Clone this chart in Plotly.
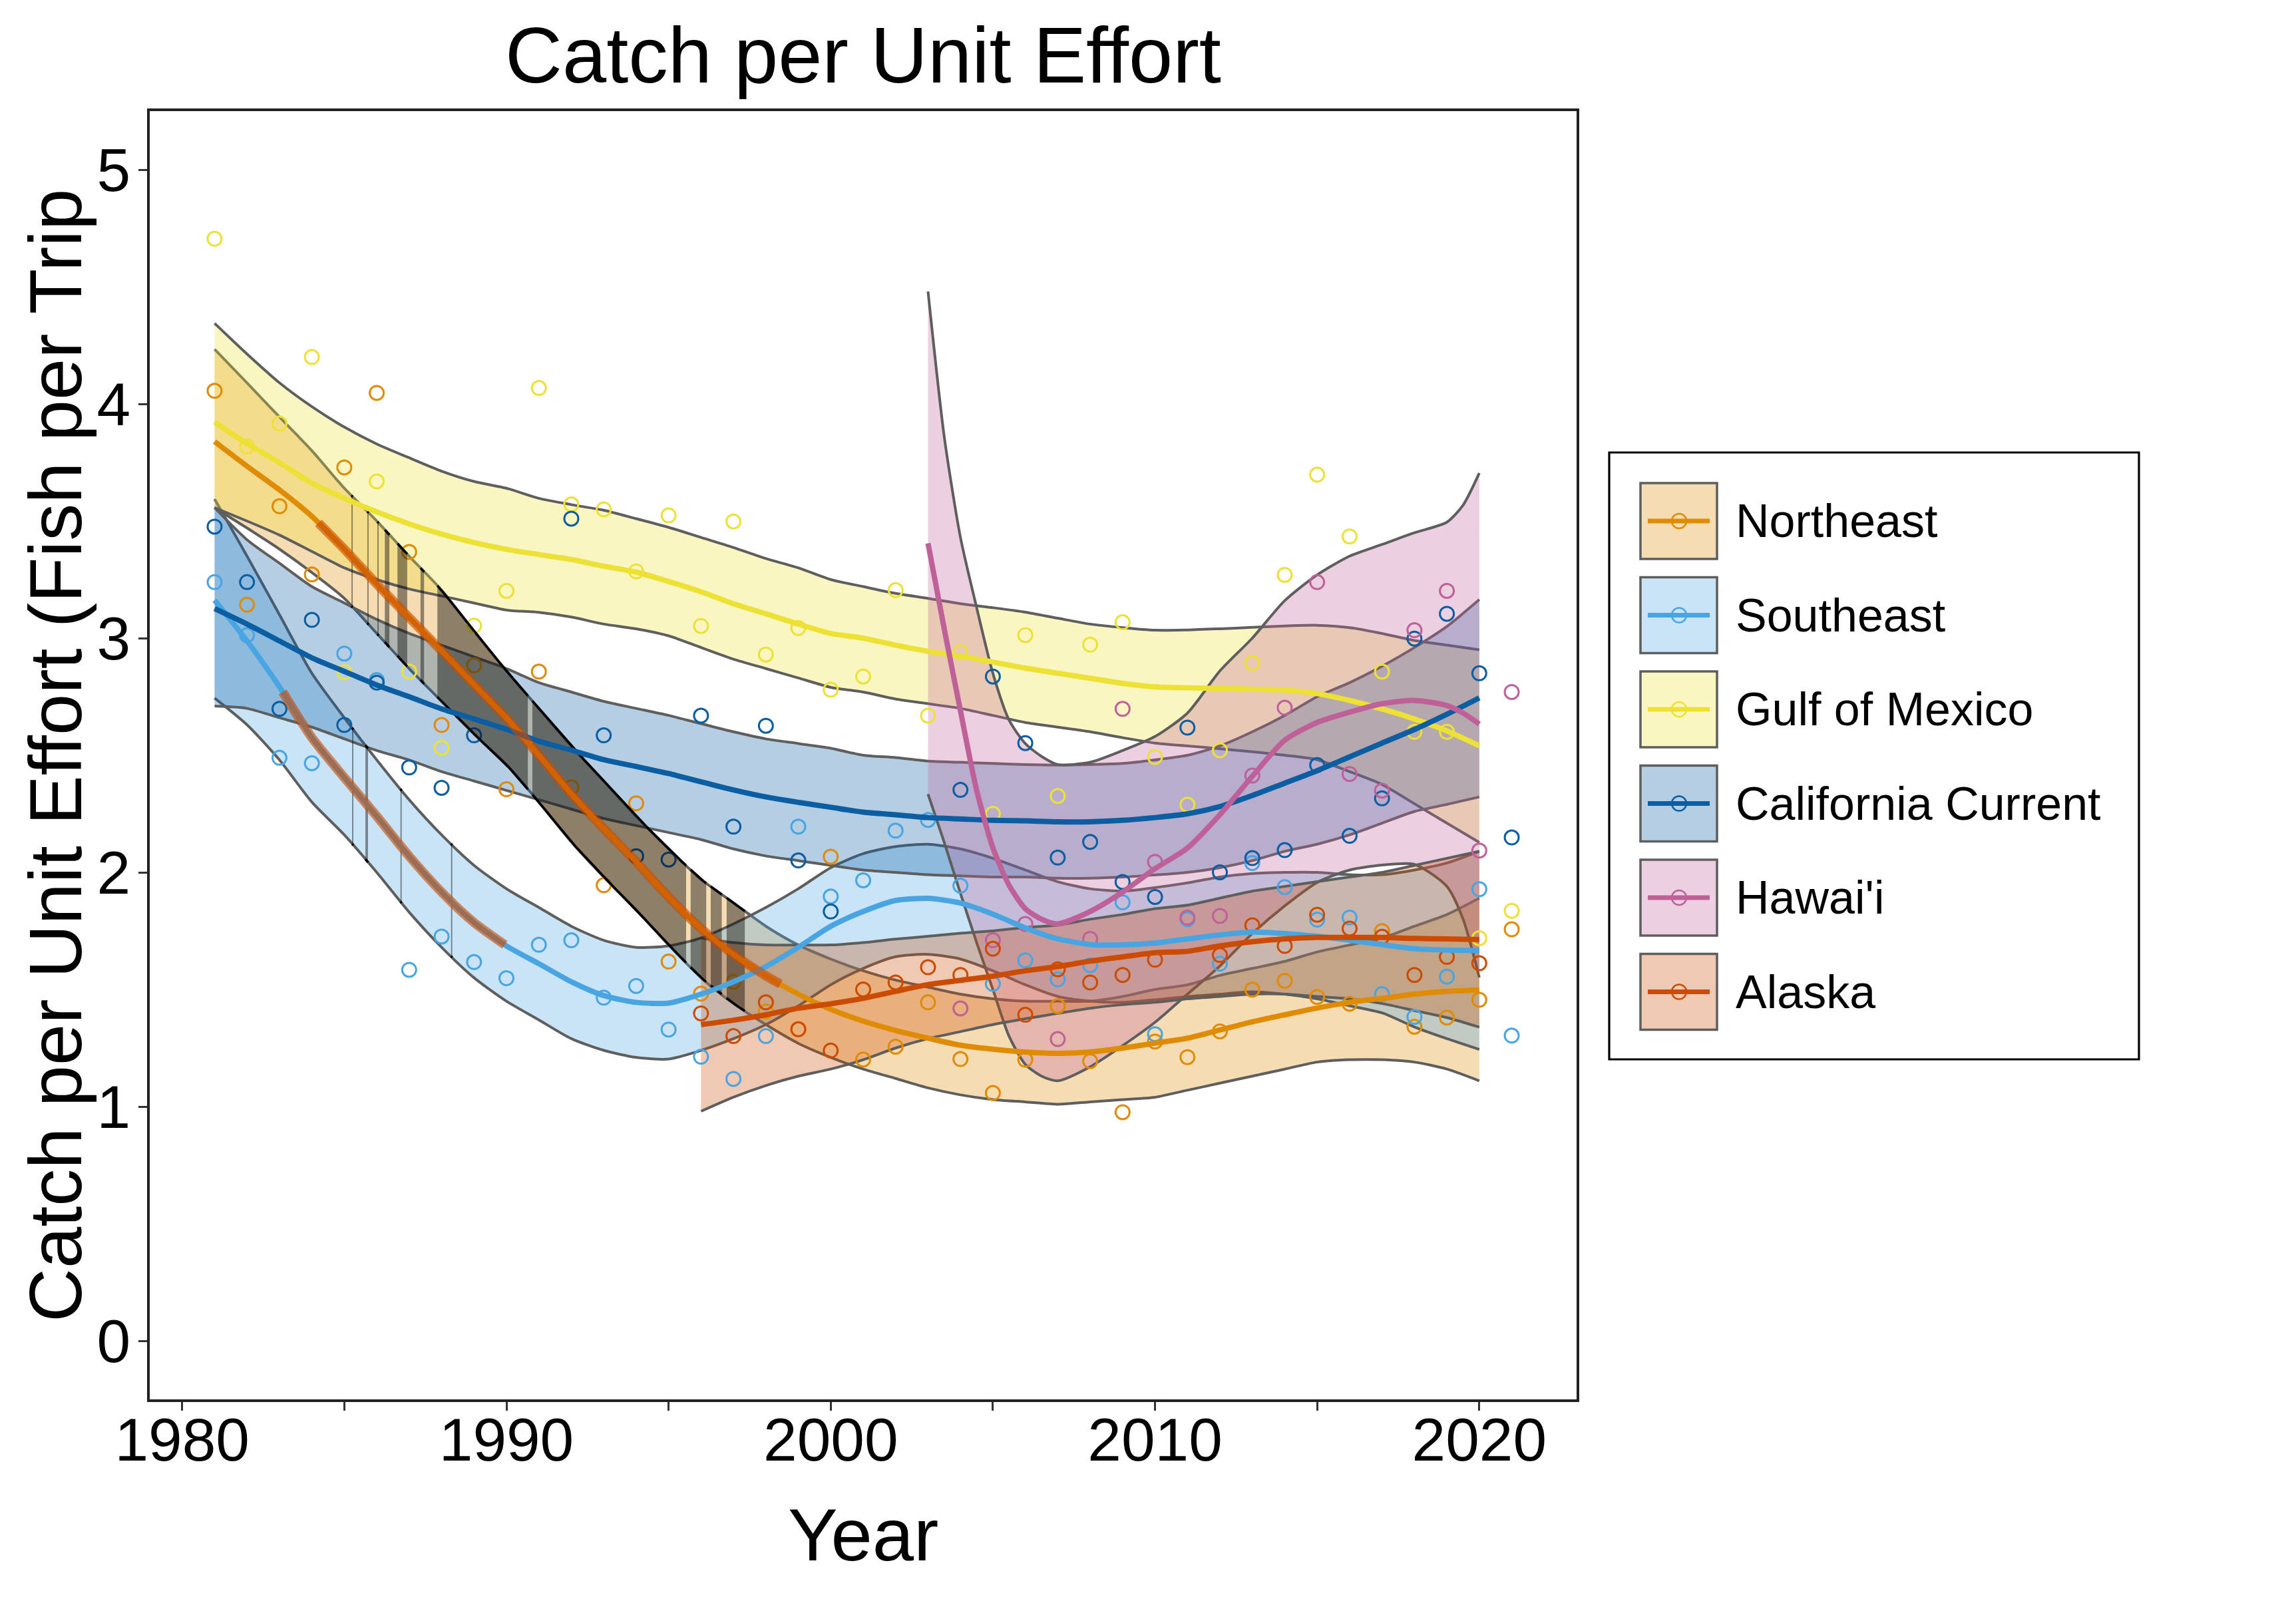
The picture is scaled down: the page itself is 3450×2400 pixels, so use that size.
import numpy as np
import plotly.graph_objects as go

# ---------------- figure geometry (pixels) ----------------
W, H = 3450, 2400
L, R, T, B = 225, 2369, 167, 2103

def px_x(px):
    return (px - L) / (R - L)

def px_y(py):
    return (B - py) / (B - T)

FONT = "Liberation Sans, Arial, Helvetica, sans-serif"

# ---------------- series ----------------
names = ["Northeast", "Southeast", "Gulf of Mexico", "California Current", "Hawai'i", "Alaska"]
line_colors = ["#DF8C04", "#49A5E2", "#EDE135", "#0B5EA1", "#BF6198", "#CC4B02"]

# observed points
ne_years = list(range(1981, 2022))
ne_vals = [4.056, 3.143, 3.563, 3.272, 3.729, 4.047, 3.368, 2.629, 2.884, 2.355,
           2.857, 2.363, 1.945, 2.295, 1.619, 1.482, 1.533, 1.406, 1.33, 2.067,
           1.201, 1.256, 1.445, 1.203, 1.058, 1.20, 1.429, 1.194, 0.976, 1.278,
           1.211, 1.321, 1.499, 1.537, 1.468, 1.439, 1.749, 1.341, 1.38, 1.456, 1.757]

se_years = list(range(1981, 2022))
se_vals = [3.239, 3.013, 2.489, 2.466, 2.934, 2.821, 1.584, 1.726, 1.617, 1.548,
           1.691, 1.710, 1.465, 1.515, 1.329, 1.213, 1.118, 1.301, 2.195, 1.897,
           1.966, 2.178, 2.224, 1.943, 1.524, 1.624, 1.543, 1.604, 1.872, 1.309,
           1.80, 1.61, 2.04, 1.937, 1.798, 1.807, 1.48, 1.383, 1.555, 1.928, 1.303]

gom_years = list(range(1981, 2022))
gom_vals = [4.705, 3.818, 3.916, 4.20, 2.855, 3.669, 2.857, 2.532, 3.053, 3.202,
            4.068, 3.571, 3.55, 3.285, 3.524, 3.052, 3.498, 2.93, 3.043, 2.78,
            2.836, 3.205, 2.669, 2.94, 2.25, 3.013, 2.326, 2.972, 3.068, 2.493,
            2.289, 2.521, 2.894, 3.27, 3.698, 3.434, 2.857, 2.60, 2.60, 1.719, 1.836]

cc_years = [1981, 1982, 1983, 1984, 1985, 1986, 1987, 1988, 1989,
            1992, 1993, 1994, 1995, 1996, 1997, 1998, 1999, 2000,
            2004, 2005, 2006, 2007, 2008, 2009, 2010, 2011, 2012,
            2013, 2014, 2015, 2016, 2017, 2018, 2019, 2020, 2021]
cc_vals = [3.476, 3.239, 2.698, 3.078, 2.629, 2.81, 2.448, 2.361, 2.585,
           3.51, 2.585, 2.069, 2.055, 2.669, 2.195, 2.626, 2.051, 1.833,
           2.352, 2.836, 2.552, 2.063, 2.13, 1.959, 1.895, 2.618, 2.0,
           2.061, 2.095, 2.458, 2.156, 2.316, 2.998, 3.104, 2.85, 2.149]

hi_years = list(range(2004, 2022))
hi_vals = [1.419, 1.71, 1.78, 1.288, 1.716, 2.698, 2.045, 1.807, 1.814, 2.413,
           2.703, 3.239, 2.42, 2.349, 3.034, 3.202, 2.093, 2.77]

ak_years = list(range(1996, 2011)) + list(range(2012, 2021))
ak_vals = [1.398, 1.301, 1.445, 1.33, 1.239, 1.50, 1.53, 1.595, 1.562, 1.674,
           1.392, 1.586, 1.53, 1.562, 1.627,
           1.647, 1.774, 1.686, 1.819, 1.76, 1.725, 1.562, 1.639, 1.612]

# smoothed trends with confidence bands
fit_years = list(range(1981, 2021))
ne_fit = [3.839, 3.734, 3.633, 3.52, 3.38, 3.231, 3.088, 2.946, 2.802, 2.659,
          2.50, 2.335, 2.187, 2.045, 1.895, 1.760, 1.650, 1.558, 1.480, 1.415,
          1.365, 1.325, 1.292, 1.262, 1.245, 1.233, 1.227, 1.233, 1.25, 1.271,
          1.292, 1.327, 1.362, 1.392, 1.421, 1.445, 1.462, 1.48, 1.492, 1.498]
ne_hi = [4.233, 4.09, 3.944, 3.80, 3.64, 3.50, 3.35, 3.205, 3.03, 2.86,
         2.70, 2.54, 2.39, 2.24, 2.10, 1.97, 1.87, 1.77, 1.69, 1.63,
         1.58, 1.54, 1.51, 1.48, 1.46, 1.45, 1.45, 1.45, 1.47, 1.50,
         1.52, 1.56, 1.59, 1.62, 1.66, 1.69, 1.72, 1.77, 1.82, 1.89]
ne_lo = [3.557, 3.47, 3.38, 3.28, 3.17, 3.02, 2.87, 2.73, 2.59, 2.46,
         2.30, 2.13, 1.98, 1.84, 1.69, 1.55, 1.44, 1.35, 1.27, 1.21,
         1.16, 1.12, 1.08, 1.05, 1.03, 1.02, 1.01, 1.02, 1.03, 1.04,
         1.07, 1.10, 1.13, 1.16, 1.19, 1.20, 1.20, 1.19, 1.16, 1.11]

se_fit = [3.162, 2.988, 2.792, 2.575, 2.405, 2.24, 2.069, 1.916, 1.786, 1.686,
          1.61, 1.533, 1.474, 1.445, 1.442, 1.48, 1.533, 1.598, 1.68, 1.77,
          1.833, 1.88, 1.889, 1.869, 1.822, 1.763, 1.716, 1.692, 1.69, 1.698,
          1.716, 1.733, 1.745, 1.739, 1.727, 1.71, 1.692, 1.674, 1.668, 1.666]
se_hi = [3.594, 3.35, 3.10, 2.85, 2.66, 2.48, 2.31, 2.16, 2.03, 1.93,
         1.85, 1.77, 1.71, 1.68, 1.686, 1.72, 1.78, 1.85, 1.93, 2.02,
         2.08, 2.11, 2.12, 2.10, 2.06, 2.01, 1.96, 1.93, 1.92, 1.935,
         1.955, 1.98, 1.995, 2.0, 2.0, 1.99, 1.99, 2.01, 2.04, 2.09]
se_lo = [2.744, 2.63, 2.48, 2.30, 2.16, 2.00, 1.83, 1.68, 1.55, 1.45,
         1.37, 1.29, 1.24, 1.21, 1.203, 1.24, 1.29, 1.35, 1.43, 1.52,
         1.59, 1.64, 1.65, 1.63, 1.58, 1.52, 1.47, 1.45, 1.445, 1.456,
         1.47, 1.48, 1.49, 1.48, 1.46, 1.43, 1.40, 1.34, 1.29, 1.244]

gom_fit = [3.923, 3.83, 3.749, 3.662, 3.597, 3.539, 3.488, 3.444, 3.408, 3.379,
           3.357, 3.336, 3.307, 3.282, 3.242, 3.198, 3.147, 3.104, 3.06, 3.02,
           3.0, 2.97, 2.944, 2.923, 2.898, 2.872, 2.85, 2.829, 2.807, 2.792,
           2.788, 2.785, 2.782, 2.778, 2.763, 2.734, 2.698, 2.655, 2.604, 2.54]
gom_hi = [4.344, 4.213, 4.09, 3.988, 3.901, 3.829, 3.77, 3.713, 3.669, 3.64,
          3.597, 3.57, 3.546, 3.51, 3.473, 3.43, 3.387, 3.34, 3.30, 3.25,
          3.22, 3.191, 3.17, 3.147, 3.13, 3.111, 3.085, 3.06, 3.045, 3.034,
          3.035, 3.04, 3.046, 3.052, 3.055, 3.045, 3.02, 2.99, 2.97, 2.95]
gom_lo = [3.557, 3.50, 3.44, 3.37, 3.30, 3.25, 3.21, 3.18, 3.15, 3.12,
          3.11, 3.09, 3.06, 3.04, 3.01, 2.96, 2.91, 2.87, 2.83, 2.79,
          2.77, 2.74, 2.72, 2.70, 2.67, 2.64, 2.62, 2.60, 2.575, 2.552,
          2.54, 2.528, 2.515, 2.50, 2.481, 2.43, 2.375, 2.293, 2.21, 2.128]

cc_fit = [3.126, 3.06, 2.988, 2.916, 2.858, 2.8, 2.75, 2.698, 2.655, 2.611,
          2.56, 2.522, 2.481, 2.452, 2.422, 2.387, 2.352, 2.322, 2.299, 2.278,
          2.257, 2.246, 2.234, 2.228, 2.222, 2.22, 2.216, 2.216, 2.222, 2.234,
          2.25, 2.281, 2.328, 2.381, 2.434, 2.493, 2.552, 2.61, 2.675, 2.745]
cc_hi = [3.557, 3.42, 3.32, 3.22, 3.15, 3.08, 3.02, 2.97, 2.92, 2.87,
         2.81, 2.77, 2.73, 2.70, 2.67, 2.635, 2.60, 2.57, 2.55, 2.53,
         2.50, 2.49, 2.475, 2.47, 2.465, 2.46, 2.458, 2.46, 2.465, 2.48,
         2.50, 2.54, 2.60, 2.67, 2.75, 2.81, 2.88, 2.96, 3.05, 3.165]
cc_lo = [2.71, 2.70, 2.66, 2.62, 2.57, 2.52, 2.48, 2.43, 2.39, 2.35,
         2.31, 2.27, 2.23, 2.20, 2.17, 2.14, 2.10, 2.07, 2.05, 2.03,
         2.01, 2.0, 1.99, 1.985, 1.98, 1.98, 1.975, 1.975, 1.98, 1.989,
         2.0, 2.02, 2.05, 2.09, 2.12, 2.16, 2.21, 2.26, 2.29, 2.322]

hw_fit_years = [2003, 2003.5, 2004, 2004.5, 2005, 2005.5, 2006, 2006.5, 2007, 2008,
                2009, 2010, 2011, 2012, 2013, 2014, 2015, 2016, 2017, 2018,
                2019, 2019.5, 2020]
hw_fit = [3.405, 3.04, 2.69, 2.35, 2.105, 1.945, 1.845, 1.80, 1.78, 1.833,
          1.916, 2.016, 2.104, 2.246, 2.41, 2.564, 2.64, 2.684, 2.72, 2.734,
          2.712, 2.68, 2.633]
hw_hi = [4.48, 3.86, 3.43, 3.13, 2.85, 2.65, 2.55, 2.495, 2.46, 2.47,
         2.52, 2.58, 2.68, 2.86, 3.0, 3.16, 3.27, 3.35, 3.40, 3.45,
         3.495, 3.568, 3.705]
hw_lo = [2.334, 2.128, 1.91, 1.70, 1.50, 1.30, 1.18, 1.13, 1.11, 1.17,
         1.26, 1.36, 1.48, 1.60, 1.739, 1.857, 1.957, 2.01, 2.031, 2.034,
         1.94, 1.80, 1.551]

ak_fit_years = list(range(1996, 2021))
ak_fit = [1.35, 1.369, 1.392, 1.42, 1.439, 1.462, 1.492, 1.521, 1.539, 1.557,
          1.58, 1.598, 1.621, 1.639, 1.657, 1.663, 1.686, 1.704, 1.716, 1.722,
          1.722, 1.722, 1.718, 1.716, 1.713]
ak_hi = [1.72, 1.70, 1.69, 1.69, 1.69, 1.70, 1.715, 1.727, 1.74, 1.75,
         1.765, 1.775, 1.80, 1.82, 1.845, 1.86, 1.89, 1.92, 1.94, 1.96,
         1.98, 2.00, 2.03, 2.06, 2.09]
ak_lo = [0.98, 1.04, 1.09, 1.13, 1.16, 1.20, 1.25, 1.29, 1.32, 1.35,
         1.375, 1.398, 1.42, 1.435, 1.445, 1.46, 1.47, 1.48, 1.48, 1.47,
         1.46, 1.44, 1.41, 1.38, 1.339]

# periods of significant change (year intervals)
ne_sig = [(1985.22, 1985.26), (1985.71, 1985.75), (1986.02, 1986.06), (1986.25, 1986.39),
          (1986.64, 1986.94), (1987.35, 1987.46), (1987.87, 1990.66), (1990.80, 1995.54),
          (1995.68, 1996.16), (1996.30, 1996.64), (1996.79, 1997.35)]
se_sig = [(1985.24, 1985.28), (1985.65, 1985.73), (1986.73, 1986.77), (1988.29, 1988.33)]
ne_trend_hl = (1984.2, 1998.45)
se_trend_hl = (1983.1, 1989.95)

# x / y axis ticks
x_tickvals = [1980, 1985, 1990, 1995, 2000, 2005, 2010, 2015, 2020]
x_ticktext = ["1980", "", "1990", "", "2000", "", "2010", "", "2020"]
y_tickvals = [0, 1, 2, 3, 4, 5]

# ---------------- helpers ----------------
def rgba(hexc, a):
    h = hexc.lstrip("#")
    r, g, b = int(h[0:2], 16), int(h[2:4], 16), int(h[4:6], 16)
    return f"rgba({r},{g},{b},{a})"

EDGE = "#5E5E5E"
fig = go.Figure()

bands = [
    (line_colors[0], fit_years, ne_lo, ne_hi),
    (line_colors[1], fit_years, se_lo, se_hi),
    (line_colors[2], fit_years, gom_lo, gom_hi),
    (line_colors[3], fit_years, cc_lo, cc_hi),
    (line_colors[4], hw_fit_years, hw_lo, hw_hi),
    (line_colors[5], ak_fit_years, ak_lo, ak_hi),
]
for col, xs, lo, hi in bands:
    fig.add_trace(go.Scatter(x=xs, y=lo, mode="lines",
                             line=dict(color=EDGE, width=4, shape="spline", smoothing=0.7),
                             showlegend=False, hoverinfo="skip"))
    fig.add_trace(go.Scatter(x=xs, y=hi, mode="lines", fill="tonexty",
                             fillcolor=rgba(col, 0.3),
                             line=dict(color=EDGE, width=4, shape="spline", smoothing=0.7),
                             showlegend=False, hoverinfo="skip"))

# points
points = [
    (line_colors[0], ne_years, ne_vals),
    (line_colors[1], se_years, se_vals),
    (line_colors[2], gom_years, gom_vals),
    (line_colors[3], cc_years, cc_vals),
    (line_colors[4], hi_years, hi_vals),
    (line_colors[5], ak_years, ak_vals),
]
for col, xs, ys in points:
    fig.add_trace(go.Scatter(x=xs, y=ys, mode="markers",
                             marker=dict(symbol="circle-open", size=21, color=col,
                                         line=dict(width=3, color=col)),
                             showlegend=False, hoverinfo="skip"))

# significance shading
def sig_strips(intervals, xs, lo, hi):
    for a, b in intervals:
        n = max(2, int((b - a) * 12) + 2)
        xx = np.linspace(a, b, n)
        up = np.interp(xx, xs, hi)
        dn = np.interp(xx, xs, lo)
        fig.add_trace(go.Scatter(x=np.concatenate([xx, xx[::-1]]),
                                 y=np.concatenate([up, dn[::-1]]),
                                 mode="lines", fill="toself",
                                 fillcolor="rgba(0,0,0,0.42)",
                                 line=dict(width=0, color="rgba(0,0,0,0)"),
                                 showlegend=False, hoverinfo="skip"))
        for edge in (up, dn):
            fig.add_trace(go.Scatter(x=xx, y=edge, mode="lines",
                                     line=dict(color="black", width=3.5),
                                     showlegend=False, hoverinfo="skip"))

sig_strips(ne_sig, fit_years, ne_lo, ne_hi)
sig_strips(se_sig, fit_years, se_lo, se_hi)

# trend lines
fits = [
    (line_colors[0], fit_years, ne_fit),
    (line_colors[1], fit_years, se_fit),
    (line_colors[2], fit_years, gom_fit),
    (line_colors[3], fit_years, cc_fit),
    (line_colors[4], hw_fit_years, hw_fit),
    (line_colors[5], ak_fit_years, ak_fit),
]
for col, xs, ys in fits:
    fig.add_trace(go.Scatter(x=xs, y=ys, mode="lines",
                             line=dict(color=col, width=8, shape="spline", smoothing=0.7),
                             showlegend=False, hoverinfo="skip"))

# highlighted trend sections
def highlight(interval, xs, ys):
    a, b = interval
    xx = [a] + [x for x in xs if a < x < b] + [b]
    yy = list(np.interp(xx, xs, ys))
    fig.add_trace(go.Scatter(x=xx, y=yy, mode="lines",
                             line=dict(color="rgba(204,74,0,0.62)", width=14,
                                       shape="spline", smoothing=0.7),
                             showlegend=False, hoverinfo="skip"))

highlight(ne_trend_hl, fit_years, ne_fit)
highlight(se_trend_hl, fit_years, se_fit)

# ---------------- layout ----------------
axis_common = dict(showgrid=False, zeroline=False, showline=True, mirror=True,
                   linecolor="#222222", linewidth=3.5, ticks="outside", ticklen=13,
                   tickwidth=3, tickcolor="#333333",
                   tickfont=dict(family=FONT, size=91, color="black"))
fig.update_layout(
    width=W, height=H,
    margin=dict(l=L, r=W - R, t=T, b=H - B),
    paper_bgcolor="white", plot_bgcolor="white",
    showlegend=False,
    title=dict(text="Catch per Unit Effort", x=px_x(1297), xref="paper", xanchor="center",
               y=1 - 82 / H, yref="container", yanchor="middle",
               font=dict(family=FONT, size=119, color="black")),
    xaxis=dict(range=[1979, 2023], tickvals=x_tickvals, ticktext=x_ticktext,
               ticklabelstandoff=-34, **axis_common),
    yaxis=dict(range=[-0.25, 5.25], tickvals=y_tickvals, ticklabelstandoff=-6,
               **axis_common),
)

# axis titles
fig.add_annotation(text="Year", x=0.5, y=px_y(2306), xref="paper", yref="paper",
                   showarrow=False, xanchor="center", yanchor="middle",
                   font=dict(family=FONT, size=112, color="black"))
fig.add_annotation(text="Catch per Unit Effort (Fish per Trip", textangle=-90,
                   x=px_x(83), y=px_y(1136), xref="paper", yref="paper",
                   showarrow=False, xanchor="center", yanchor="middle",
                   font=dict(family=FONT, size=112, color="black"))

# ---------------- legend (drawn) ----------------
fig.add_shape(type="rect", xref="paper", yref="paper",
              x0=px_x(2418), x1=px_x(3214), y0=px_y(1592), y1=px_y(680),
              line=dict(color="black", width=3.2), fillcolor="white", layer="above")
for i, (nm, col) in enumerate(zip(names, line_colors)):
    cy = 783 + 141.5 * i
    fig.add_shape(type="rect", xref="paper", yref="paper",
                  x0=px_x(2465), x1=px_x(2580), y0=px_y(cy + 57), y1=px_y(cy - 57),
                  line=dict(color="#5E5E5E", width=3.5), fillcolor=rgba(col, 0.3), layer="above")
    fig.add_shape(type="line", xref="paper", yref="paper",
                  x0=px_x(2476), x1=px_x(2569), y0=px_y(cy), y1=px_y(cy),
                  line=dict(color=col, width=7), layer="above")
    fig.add_shape(type="circle", xref="paper", yref="paper",
                  x0=px_x(2512), x1=px_x(2534), y0=px_y(cy + 11), y1=px_y(cy - 11),
                  line=dict(color=col, width=2.5), layer="above")
    fig.add_annotation(text=nm, x=px_x(2606), y=px_y(cy), xref="paper", yref="paper",
                       showarrow=False, xanchor="left", yanchor="middle",
                       font=dict(family=FONT, size=70, color="black"))

fig.write_html("out.html")
